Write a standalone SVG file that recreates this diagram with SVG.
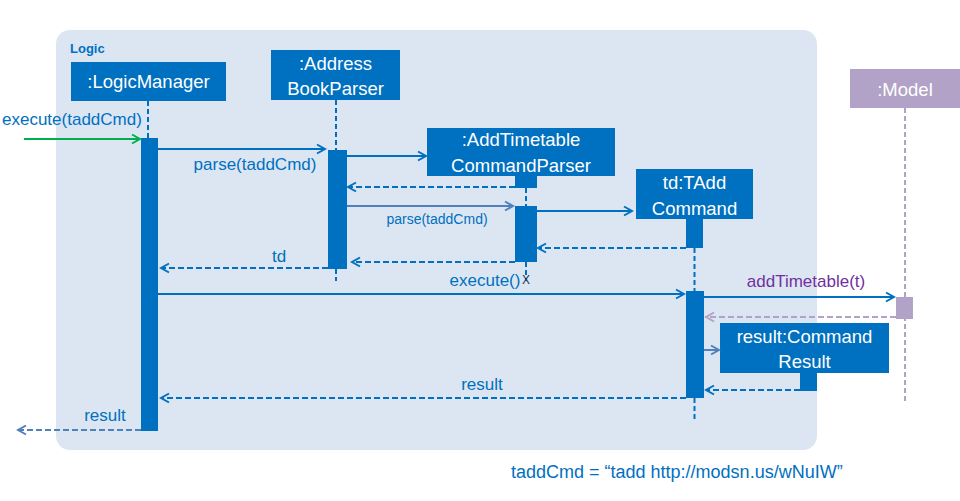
<svg xmlns="http://www.w3.org/2000/svg" width="960" height="501" viewBox="0 0 960 501">
<defs>
<marker id="ab" viewBox="0 0 12 12" markerWidth="12" markerHeight="12" refX="10" refY="6" orient="auto" markerUnits="userSpaceOnUse"><path d="M2,1.5 L10,6 L2,10.5" fill="none" stroke="#0070c0" stroke-width="2"/></marker>
<marker id="al" viewBox="0 0 12 12" markerWidth="12" markerHeight="12" refX="10" refY="6" orient="auto" markerUnits="userSpaceOnUse"><path d="M2,1.5 L10,6 L2,10.5" fill="none" stroke="#4f81bd" stroke-width="2"/></marker>
<marker id="ag" viewBox="0 0 12 12" markerWidth="12" markerHeight="12" refX="10" refY="6" orient="auto" markerUnits="userSpaceOnUse"><path d="M2,1.5 L10,6 L2,10.5" fill="none" stroke="#00b050" stroke-width="2"/></marker>
<marker id="ap" viewBox="0 0 12 12" markerWidth="12" markerHeight="12" refX="10" refY="6" orient="auto" markerUnits="userSpaceOnUse"><path d="M2,1.5 L10,6 L2,10.5" fill="none" stroke="#b3a2c7" stroke-width="2"/></marker>
</defs>
<style>
text{font-family:"Liberation Sans",Arial,sans-serif}
.box{fill:#0070c0}
.bt{fill:#ffffff;font-size:18.5px;text-anchor:middle}
.act{fill:#0070c0}
.life{stroke:#0070c0;stroke-width:2;stroke-dasharray:5,3;fill:none}
.msg{stroke:#0070c0;stroke-width:2;fill:none;marker-end:url(#ab)}
.ret{stroke:#0070c0;stroke-width:2;stroke-dasharray:6,3;fill:none;marker-end:url(#ab)}
.lbl{fill:#0070c0;font-size:17px;text-anchor:middle}
</style>
<rect x="56" y="30" width="761" height="420" rx="14" fill="#dce6f2"/>
<text x="70" y="53" font-size="13" font-weight="bold" fill="#0070c0">Logic</text>

<g id="logicManager">
<rect class="box" x="71" y="62" width="155" height="39"/>
<text class="bt" x="148.5" y="88">:LogicManager</text>
<line class="life" x1="148" y1="101" x2="148" y2="138"/>
<rect class="act" x="141" y="138" width="17" height="293"/>
</g>

<g id="addressBookParser">
<rect class="box" x="271" y="50" width="129" height="50"/>
<text class="bt" x="335.5" y="70">:Address</text>
<text class="bt" x="335.5" y="95">BookParser</text>
<line class="life" x1="336" y1="100" x2="336" y2="150"/>
<rect class="act" x="328" y="150" width="19" height="119"/>
<line class="life" x1="336" y1="269" x2="336" y2="281"/>
</g>

<g id="addTimetableCommandParser">
<rect class="box" x="427" y="128" width="188" height="48"/>
<text class="bt" x="521" y="146">:AddTimetable</text>
<text class="bt" x="521" y="172">CommandParser</text>
<rect class="act" x="515" y="175" width="22" height="13"/>
<line class="life" x1="526" y1="188" x2="526" y2="206"/>
<rect class="act" x="515" y="206" width="22" height="56"/>
<line class="life" x1="526" y1="262" x2="526" y2="281"/>
<text x="526" y="284" font-size="12" fill="#17375e" text-anchor="middle">X</text>
</g>

<g id="tAddCommand">
<rect class="box" x="636" y="169" width="117" height="50"/>
<text class="bt" x="694.5" y="189">td:TAdd</text>
<text class="bt" x="694.5" y="215">Command</text>
<rect class="act" x="686" y="218" width="17" height="30"/>
<line class="life" x1="694.5" y1="248" x2="694.5" y2="292"/>
<rect class="act" x="686" y="291" width="18" height="107"/>
<line class="life" x1="694.5" y1="398" x2="694.5" y2="421"/>
</g>

<g id="model">
<rect x="850" y="69" width="110" height="39" fill="#b3a2c7"/>
<text class="bt" x="905" y="96">:Model</text>
<line x1="905" y1="108" x2="905" y2="403" stroke="#b3a2c7" stroke-width="2" stroke-dasharray="5,3"/>
<rect x="896" y="297" width="17" height="22" fill="#b3a2c7"/>
</g>

<g id="commandResult">
<rect class="box" x="720" y="323" width="169" height="50"/>
<text class="bt" x="804.5" y="343">result:Command</text>
<text class="bt" x="804.5" y="368">Result</text>
<rect class="act" x="800" y="372" width="17" height="19"/>
</g>

<g id="connectors">
<line x1="24" y1="139" x2="140" y2="139" stroke="#00b050" stroke-width="2" marker-end="url(#ag)"/>
<text class="lbl" x="2" y="125" style="text-anchor:start">execute(taddCmd)</text>

<line class="msg" x1="158" y1="149" x2="325" y2="149"/>
<text class="lbl" x="255" y="170">parse(taddCmd)</text>

<line class="msg" x1="347" y1="156" x2="426" y2="156"/>
<line class="ret" x1="515" y1="187" x2="348" y2="187"/>

<line x1="347" y1="206" x2="513" y2="206" stroke="#4f81bd" stroke-width="2" marker-end="url(#al)"/>
<text class="lbl" x="437" y="224" style="font-size:14px">parse(taddCmd)</text>

<line class="msg" x1="537" y1="211" x2="632" y2="211"/>
<line class="ret" x1="686" y1="248" x2="538" y2="248"/>
<line class="ret" x1="515" y1="262" x2="352" y2="262"/>

<line class="ret" x1="328" y1="268" x2="161" y2="268"/>
<text class="lbl" x="279" y="262">td</text>

<line class="msg" x1="158" y1="294" x2="684" y2="294"/>
<text class="lbl" x="485" y="286">execute()</text>

<line class="msg" x1="704" y1="297" x2="894" y2="297"/>
<text class="lbl" x="806" y="287" style="fill:#7030a0">addTimetable(t)</text>

<line x1="896" y1="317" x2="706" y2="317" stroke="#b3a2c7" stroke-width="2" stroke-dasharray="6,3" marker-end="url(#ap)"/>

<line x1="704" y1="350" x2="719" y2="350" stroke="#4f81bd" stroke-width="2" marker-end="url(#al)"/>

<line class="ret" x1="800" y1="390" x2="706" y2="390"/>

<line class="ret" x1="686" y1="398" x2="161" y2="398"/>
<text class="lbl" x="482" y="390">result</text>

<line x1="141" y1="430" x2="18" y2="430" stroke="#4f81bd" stroke-width="2" stroke-dasharray="6,3" marker-end="url(#al)"/>
<text class="lbl" x="105" y="421">result</text>
</g>

<text x="511" y="478" font-size="18" fill="#0070c0">taddCmd = “tadd http://modsn.us/wNuIW”</text>
</svg>
